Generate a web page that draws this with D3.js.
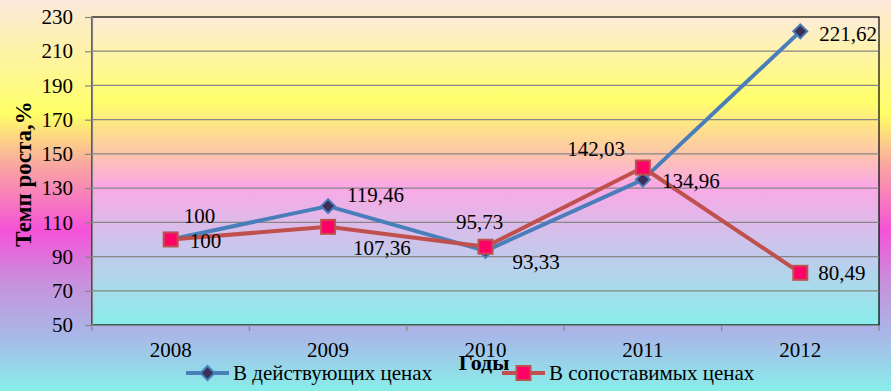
<!DOCTYPE html>
<html>
<head>
<meta charset="utf-8">
<script src="https://cdn.jsdelivr.net/npm/d3@7"></script>
<style>
  html, body { margin: 0; padding: 0; }
  svg { display: block; }
  svg text { font-family: "Liberation Serif", serif; fill: #000; }
</style>
</head>
<body>
<div class="chart_area"></div>
<script>
// data
var years = ["2008", "2009", "2010", "2011", "2012"];
var currentPrices = [100, 119.46, 93.33, 134.96, 221.62];
var comparablePrices = [100, 107.36, 95.73, 142.03, 80.49];
var yTicks = [50, 70, 90, 110, 130, 150, 170, 190, 210, 230];
var seriesNames = ["В действующих ценах", "В сопоставимых ценах"];

// label offsets from the marker (dx, dy, anchor)
var labelPosBlue = [[13, -24, "start"], [19, -11, "start"], [27, 11, "start"], [19, 1, "start"], [19, 2, "start"]];
var labelPosRed = [[19, 1, "start"], [25, 21, "start"], [-6, -25, "middle"], [-18, -19, "end"], [18, 0, "start"]];

var W = 891, H = 391;
var margin = {top: 17, right: 12, bottom: 66, left: 92},
    width = W - margin.left - margin.right,
    height = H - margin.top - margin.bottom;

var svg = d3.select(".chart_area").append("svg")
    .attr("width", W)
    .attr("height", H);

var defs = svg.append("defs");

function gradient(id, stops) {
  var g = defs.append("linearGradient").attr("id", id)
      .attr("x1", 0).attr("y1", 0).attr("x2", 0).attr("y2", 1);
  stops.forEach(function (s) {
    g.append("stop").attr("offset", s[0]).attr("stop-color", s[1]);
  });
}

gradient("bgOuter", [[0, "#fde8dc"], [0.29, "#ffff66"], [0.42, "#f9a8a0"], [0.59, "#f552d8"],
                     [0.72, "#c890dc"], [0.86, "#a8b8e8"], [1, "#88eeea"]]);
gradient("bgPlot", [[0, "#fdebd8"], [0.27, "#ffff6a"], [0.43, "#fdcaa4"], [0.55, "#fba8e6"],
                    [0.76, "#c6c8ec"], [1, "#88eeea"]]);

svg.append("rect").attr("width", W).attr("height", H).attr("fill", "url(#bgOuter)");

var g = svg.append("g")
    .attr("transform", "translate(" + margin.left + "," + margin.top + ")");

var x = d3.scaleBand().domain(years).range([0, width]);
var y = d3.scaleLinear().domain([50, 230]).range([height, 0]);

// plot area
g.append("rect")
    .attr("width", width).attr("height", height)
    .attr("fill", "url(#bgPlot)")
    .attr("stroke", "#000").attr("stroke-width", 1.2);

// gridlines
g.selectAll("line.grid")
  .data(yTicks.slice(1, -1))
  .enter().append("line")
    .attr("class", "grid")
    .attr("x1", 0).attr("x2", width)
    .attr("y1", function (d) { return y(d); })
    .attr("y2", function (d) { return y(d); })
    .attr("stroke", "#868686").attr("stroke-width", 1.2);

// y axis
var yAxis = g.append("g")
    .call(d3.axisLeft(y).tickValues(yTicks).tickSize(7).tickPadding(12)
      .tickFormat(d3.format("d")));
yAxis.attr("font-family", null);
yAxis.selectAll("text").style("font-size", "21px");

// x axis with ticks on band edges
var xAxis = g.append("g")
    .attr("transform", "translate(0," + height + ")")
    .call(d3.axisBottom(x).tickSize(0).tickPadding(17));
xAxis.attr("font-family", null);
xAxis.selectAll("text").style("font-size", "21px");
xAxis.selectAll(".tick").select("line").remove();
var edges = years.map(function (d) { return x(d); }).concat([width]);
xAxis.selectAll("line.edge")
  .data(edges)
  .enter().append("line")
    .attr("class", "edge")
    .attr("x1", function (d) { return d; }).attr("x2", function (d) { return d; })
    .attr("y1", 0).attr("y2", 6);

svg.selectAll(".domain, .tick line, line.edge")
    .attr("stroke", "#868686").attr("stroke-width", 1.2);

// axis titles
svg.append("text")
    .attr("transform", "translate(31,174) rotate(-90)")
    .attr("text-anchor", "middle")
    .style("font-size", "23px").style("font-weight", "bold")
    .text("Темп роста,%");

svg.append("text")
    .attr("x", 484).attr("y", 370)
    .attr("text-anchor", "middle")
    .style("font-size", "22px").style("font-weight", "bold")
    .text("Годы");

var cx = function (i) { return x(years[i]) + x.bandwidth() / 2; };
var line = d3.line()
    .x(function (d, i) { return cx(i); })
    .y(function (d) { return y(d); });

var blue = "#4a7ebb", red = "#c0504d";
var diamond = d3.symbol().type(d3.symbolDiamond2).size(125);

// series 1
g.append("path").datum(currentPrices)
    .attr("d", line).attr("fill", "none")
    .attr("stroke", blue).attr("stroke-width", 4).attr("stroke-linejoin", "round");
g.selectAll("path.dia")
  .data(currentPrices)
  .enter().append("path")
    .attr("class", "dia")
    .attr("d", diamond)
    .attr("transform", function (d, i) { return "translate(" + cx(i) + "," + y(d) + ")"; })
    .attr("fill", "#3b2f5a").attr("stroke", blue).attr("stroke-width", 2);

// series 2
g.append("path").datum(comparablePrices)
    .attr("d", line).attr("fill", "none")
    .attr("stroke", red).attr("stroke-width", 4).attr("stroke-linejoin", "round");
g.selectAll("rect.sq")
  .data(comparablePrices)
  .enter().append("rect")
    .attr("class", "sq")
    .attr("x", function (d, i) { return cx(i) - 7; })
    .attr("y", function (d) { return y(d) - 7; })
    .attr("width", 14).attr("height", 14)
    .attr("fill", "#ff0066").attr("stroke", red).attr("stroke-width", 2);

// data labels
var fmt = function (v) { return String(v).replace(".", ","); };
function labels(data, pos) {
  g.selectAll(null)
    .data(data)
    .enter().append("text")
      .attr("x", function (d, i) { return cx(i) + pos[i][0]; })
      .attr("y", function (d, i) { return y(d) + pos[i][1]; })
      .attr("dy", "0.35em")
      .attr("text-anchor", function (d, i) { return pos[i][2]; })
      .style("font-size", "21px")
      .text(fmt);
}
labels(currentPrices, labelPosBlue);
labels(comparablePrices, labelPosRed);

// legend
var legend = svg.append("g").attr("transform", "translate(0,373)");
var items = [{x: 186, color: blue}, {x: 502, color: red}];
items.forEach(function (it, i) {
  var lg = legend.append("g").attr("transform", "translate(" + it.x + ",0)");
  lg.append("line").attr("x1", 0).attr("x2", 43)
      .attr("stroke", it.color).attr("stroke-width", 4);
  if (i === 0) {
    lg.append("path").attr("d", diamond).attr("transform", "translate(21.5,0)")
        .attr("fill", "#3b2f5a").attr("stroke", blue).attr("stroke-width", 2);
  } else {
    lg.append("rect").attr("x", 14.5).attr("y", -7).attr("width", 14).attr("height", 14)
        .attr("fill", "#ff0066").attr("stroke", red).attr("stroke-width", 2);
  }
  lg.append("text").attr("x", 47).attr("dy", "0.35em")
      .style("font-size", "21px").text(seriesNames[i]);
});
</script>
</body>
</html>
